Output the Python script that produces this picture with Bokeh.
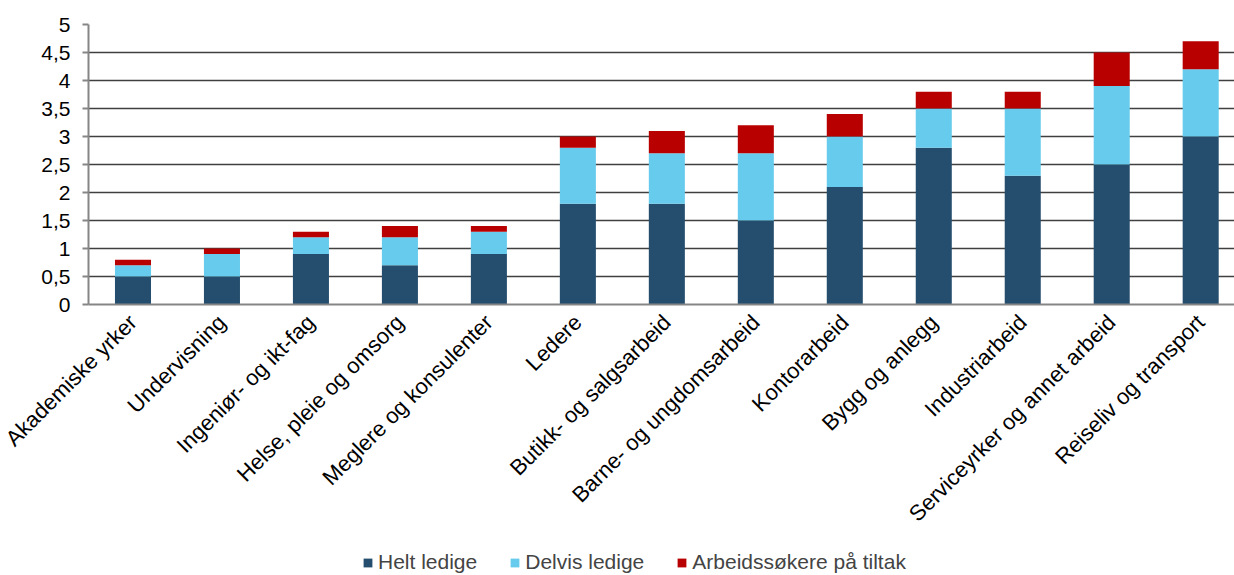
import math
from bokeh.plotting import figure
from bokeh.layouts import column
from bokeh.models import (Range1d, Legend, LegendItem, CustomJSTickFormatter,
                          FixedTicker, ColumnDataSource)
from bokeh.embed import file_html
from bokeh.resources import INLINE

categories = ["Akademiske yrker", "Undervisning", "Ingeniør- og ikt-fag",
              "Helse, pleie og omsorg", "Meglere og konsulenter", "Ledere",
              "Butikk- og salgsarbeid", "Barne- og ungdomsarbeid", "Kontorarbeid",
              "Bygg og anlegg", "Industriarbeid", "Serviceyrker og annet arbeid",
              "Reiseliv og transport"]
helt_ledige = [0.5, 0.5, 0.9, 0.7, 0.9, 1.8, 1.8, 1.5, 2.1, 2.8, 2.3, 2.5, 3.0]
delvis_ledige = [0.2, 0.4, 0.3, 0.5, 0.4, 1.0, 0.9, 1.2, 0.9, 0.7, 1.2, 1.4, 1.2]
tiltak = [0.1, 0.1, 0.1, 0.2, 0.1, 0.2, 0.4, 0.5, 0.4, 0.3, 0.3, 0.6, 0.5]
series_names = ["Helt ledige", "Delvis ledige", "Arbeidssøkere på tiltak"]
y_ticks = [0, 0.5, 1, 1.5, 2, 2.5, 3, 3.5, 4, 4.5, 5]
colors = ["#254E6E", "#66CBEC", "#B80000"]

FONT = "Liberation Sans"

# category slots 0..13; the original image cuts the plot a little before its right end
n = len(categories)
x_pos = [i + 0.5 for i in range(n)]
X_VISIBLE_END = 12.88

src = ColumnDataSource(dict(x=x_pos, cat=categories, helt=helt_ledige,
                            delvis=delvis_ledige, tiltak=tiltak))
stack_cols = ["helt", "delvis", "tiltak"]

W = 1234
p = figure(x_range=Range1d(0, X_VISIBLE_END), y_range=Range1d(0, 5),
           width=W, height=540, output_backend="svg", toolbar_location=None,
           min_border_left=88, min_border_right=0, min_border_top=24,
           min_border_bottom=236)
p.outline_line_color = None
p.background_fill_color = "white"
p.border_fill_color = "white"

p.vbar_stack(stack_cols, x="x", width=0.405, color=colors,
             line_color=None, source=src)

p.xgrid.grid_line_color = None
p.ygrid.grid_line_color = "#404040"
p.ygrid.grid_line_width = 1.3

p.yaxis.ticker = FixedTicker(ticks=y_ticks)
p.yaxis.formatter = CustomJSTickFormatter(code="return tick.toString().replace('.', ',');")
p.yaxis.axis_line_color = "#868686"
p.yaxis.axis_line_width = 2
p.yaxis.major_tick_line_color = "#868686"
p.yaxis.major_tick_line_width = 2
p.yaxis.major_tick_out = 6
p.yaxis.major_tick_in = 0
p.yaxis.minor_tick_line_color = None
p.yaxis.major_label_text_font = FONT
p.yaxis.major_label_text_font_size = "21px"
p.yaxis.major_label_text_color = "black"
p.yaxis.major_label_standoff = 12

p.xaxis.ticker = FixedTicker(ticks=x_pos)
p.xaxis.formatter = CustomJSTickFormatter(args=dict(names=categories),
                                          code="return names[Math.floor(tick)];")
p.xaxis.axis_line_color = "#868686"
p.xaxis.axis_line_width = 2
p.xaxis.major_tick_line_color = None
p.xaxis.minor_tick_line_color = None
p.xaxis.major_label_orientation = math.pi / 4
p.xaxis.major_label_text_font = FONT
p.xaxis.major_label_text_font_size = "22px"
p.xaxis.major_label_text_color = "black"
p.xaxis.major_label_standoff = 8

# Legend in its own strip below the chart; its swatches come from the same
# stacked series, drawn into a y-window that no bar reaches.
lf = figure(width=W, height=34, output_backend="svg", toolbar_location=None,
            x_range=Range1d(0, X_VISIBLE_END), y_range=Range1d(100, 101),
            min_border=0, outline_line_color=None)
lf.axis.visible = False
lf.grid.visible = False
leg_renderers = lf.vbar_stack(stack_cols, x="x", width=0.405, color=colors,
                              line_color=None, source=src)
items = [LegendItem(label=s, renderers=[r]) for s, r in zip(series_names, leg_renderers)]
legend = Legend(items=items, orientation="horizontal", location=(274, 0),
                glyph_width=11, glyph_height=11, label_standoff=5, spacing=32,
                padding=0, margin=0, border_line_color=None,
                background_fill_alpha=0, label_text_font=FONT,
                label_text_font_size="21px", label_height=20)
lf.add_layout(legend)

layout = column(p, lf, spacing=0)
open("out.html", "w").write(file_html(layout, INLINE))
